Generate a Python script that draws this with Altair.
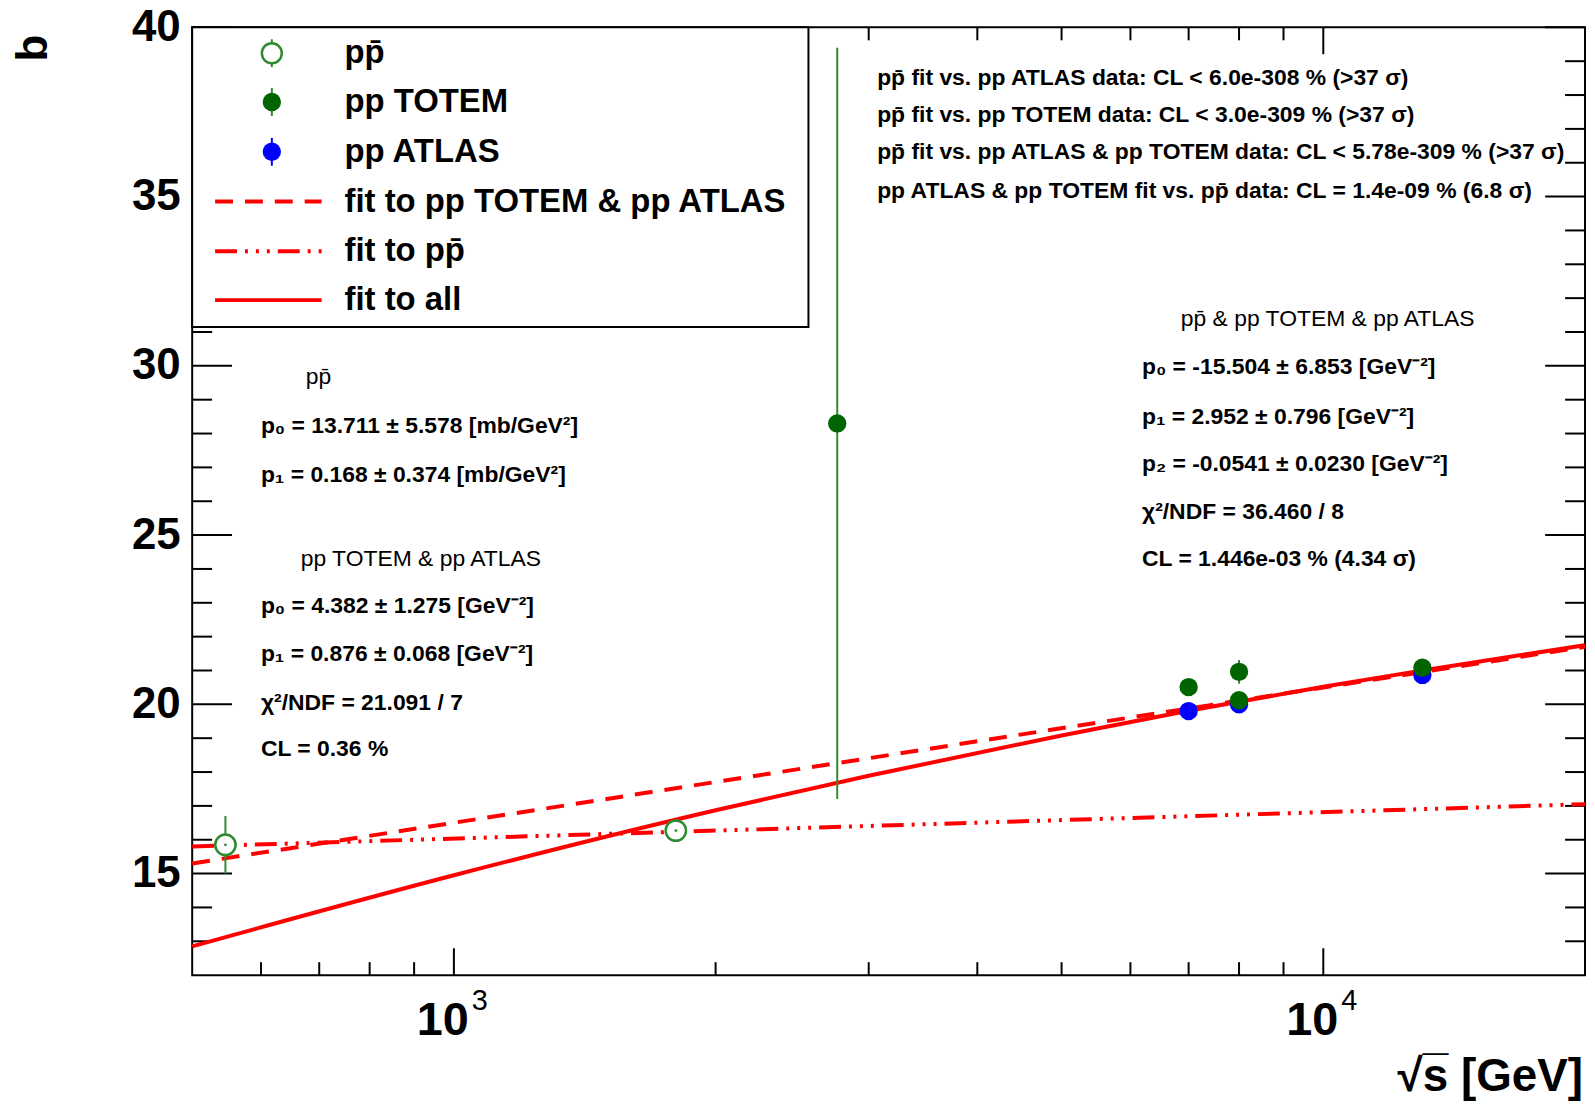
import altair as alt
import pandas as pd

# ---------------- data ----------------
ppbar_x = [546, 1800]
ppbar_y = [15.85, 16.27]
ppbar_err = [0.85, 0.1]

totem_x = [2760, 7000, 8000, 8000, 13000]
totem_y = [28.3, 20.51, 20.96, 20.12, 21.08]
totem_err = [11.1, 0.1, 0.35, 0.1, 0.1]

atlas_x = [7000, 8000, 13000]
atlas_y = [19.80, 20.0, 20.87]
atlas_err = [0.08, 0.08, 0.08]

fit_pp_x = [500, 20000]
fit_pp_y = [15.3, 21.7]
fit_ppbar_x = [500, 20000]
fit_ppbar_y = [15.8, 17.05]
fit_all_x = [500, 1000, 2000, 3000, 5000, 7000, 10000, 13000, 20000]
fit_all_y = [12.85, 14.95, 16.87, 17.89, 19.08, 19.81, 20.52, 21.0, 21.75]

y_major = [15, 20, 25, 30, 35, 40]
y_minor = [13, 14, 16, 17, 18, 19, 21, 22, 23, 24, 26, 27, 28, 29,
           31, 32, 33, 34, 36, 37, 38, 39]
x_major = [1000, 10000]
x_major_base = ["10", "10"]
x_major_exp = ["3", "4"]
x_minor = [600, 700, 800, 900, 2000, 3000, 4000, 5000, 6000, 7000, 8000, 9000]

PB = "pp\u0304"

legend_labels = [PB, "pp TOTEM", "pp ATLAS", "fit to pp TOTEM & pp ATLAS",
                 "fit to " + PB, "fit to all"]

top_lines = [
    PB + " fit vs. pp ATLAS data: CL < 6.0e-308 % (>37  σ)",
    PB + " fit vs. pp TOTEM data: CL < 3.0e-309 % (>37  σ)",
    PB + " fit vs. pp ATLAS & pp TOTEM data: CL < 5.78e-309 % (>37  σ)",
    "pp ATLAS & pp TOTEM fit vs. " + PB + " data: CL = 1.4e-09 % (6.8  σ)",
]
left_head1 = PB
left_lines1 = ["p₀ = 13.711 ± 5.578 [mb/GeV²]", "p₁ = 0.168 ± 0.374 [mb/GeV²]"]
left_head2 = "pp TOTEM & pp ATLAS"
left_lines2 = ["p₀ = 4.382 ± 1.275 [GeV⁻²]", "p₁ = 0.876 ± 0.068 [GeV⁻²]",
               "χ²/NDF = 21.091 / 7", "CL = 0.36 %"]
right_head = PB + " & pp TOTEM & pp ATLAS"
right_lines = ["p₀ = -15.504 ± 6.853 [GeV⁻²]", "p₁ = 2.952 ± 0.796 [GeV⁻²]",
               "p₂ = -0.0541 ± 0.0230 [GeV⁻²]", "χ²/NDF = 36.460 / 8",
               "CL = 1.446e-03 % (4.34  σ)"]

# ---------------- styling ----------------
W, H = 1399, 952
OX, OY = 193, 25          # page position of plot origin
FONT = "Liberation Sans"
RED = "#ff0000"
GREEN_OPEN = "#2e8b2e"
GREEN_FILL = "#006400"
GREEN_ERR = "#2e8b2e"
BLUE = "#0000ff"

xs = alt.Scale(type="log", domain=[500, 20000], nice=False)
ys = alt.Scale(domain=[12, 40], nice=False)
yaxis = alt.Axis(values=y_major, labelFontSize=44, labelFont=FONT,
                 labelFontWeight="bold", labelColor="black", ticks=False,
                 domain=False, grid=False, title=None, labelPadding=12)


def X(f):
    return alt.X(f, type="quantitative", scale=xs, axis=None)


def Y(f):
    return alt.Y(f, type="quantitative", scale=ys, axis=yaxis)


def pts(xv, yv, ev):
    return pd.DataFrame({"x": xv, "y": yv,
                         "lo": [a - b for a, b in zip(yv, ev)],
                         "hi": [a + b for a, b in zip(yv, ev)]})


def txt(s, px, py, size=23, weight="bold", align="left", angle=0,
        baseline="middle", color="black"):
    kw = dict(text=s, font=FONT, fontSize=size, fontWeight=weight,
              align=align, baseline=baseline, color=color)
    if angle:
        kw["angle"] = angle
    return alt.Chart(pd.DataFrame({"a": [0]})).mark_text(**kw).encode(
        x=alt.value(px - OX), y=alt.value(py - OY))


layers = []

# ticks (inside the frame, ROOT style)
ymaj = pd.DataFrame({"v": y_major})
ymin = pd.DataFrame({"v": y_minor})
xmaj = pd.DataFrame({"v": x_major})
xmin = pd.DataFrame({"v": x_minor})
tick_kw = dict(color="black", strokeWidth=2)
for df, L in [(ymaj, 40), (ymin, 20)]:
    layers.append(alt.Chart(df).mark_rule(**tick_kw).encode(
        y=Y("v"), x=alt.value(0), x2=alt.value(L)))
    layers.append(alt.Chart(df).mark_rule(**tick_kw).encode(
        y=Y("v"), x=alt.value(W - L), x2=alt.value(W)))
for df, L in [(xmaj, 27), (xmin, 13)]:
    layers.append(alt.Chart(df).mark_rule(**tick_kw).encode(
        x=X("v"), y=alt.value(H - L), y2=alt.value(H)))
    layers.append(alt.Chart(df).mark_rule(**tick_kw).encode(
        x=X("v"), y=alt.value(0), y2=alt.value(L)))

# x tick labels 10^3, 10^4
xl = pd.DataFrame({"v": x_major, "b": x_major_base, "e": x_major_exp})
layers.append(alt.Chart(xl).mark_text(
    font=FONT, fontSize=47, fontWeight="bold", align="right",
    baseline="middle", dx=15, color="black").encode(
    x=X("v"), y=alt.value(1023 - OY), text="b:N"))
layers.append(alt.Chart(xl).mark_text(
    font=FONT, fontSize=29, fontWeight="normal", align="left",
    baseline="middle", dx=18, color="black").encode(
    x=X("v"), y=alt.value(1003 - OY), text="e:N"))

# fit lines
layers.append(alt.Chart(pd.DataFrame({"x": fit_pp_x, "y": fit_pp_y})).mark_line(
    color=RED, strokeWidth=4, strokeDash=[18, 12]).encode(x=X("x"), y=Y("y")))
layers.append(alt.Chart(pd.DataFrame({"x": fit_ppbar_x, "y": fit_ppbar_y})).mark_line(
    color=RED, strokeWidth=4, strokeDash=[22, 8, 3, 8, 3, 8, 3, 8]).encode(x=X("x"), y=Y("y")))
layers.append(alt.Chart(pd.DataFrame({"x": fit_all_x, "y": fit_all_y})).mark_line(
    color=RED, strokeWidth=4, interpolate="monotone").encode(x=X("x"), y=Y("y")))

# data points
dpb = pts(ppbar_x, ppbar_y, ppbar_err)
dto = pts(totem_x, totem_y, totem_err)
dat = pts(atlas_x, atlas_y, atlas_err)
layers.append(alt.Chart(dat).mark_rule(color=BLUE, strokeWidth=2).encode(
    x=X("x"), y=Y("lo"), y2="hi"))
layers.append(alt.Chart(dat).mark_point(shape="circle", filled=True, size=340,
                                        color=BLUE, opacity=1).encode(x=X("x"), y=Y("y")))
layers.append(alt.Chart(dto).mark_rule(color=GREEN_ERR, strokeWidth=2).encode(
    x=X("x"), y=Y("lo"), y2="hi"))
layers.append(alt.Chart(dto).mark_point(shape="circle", filled=True, size=340,
                                        color=GREEN_FILL, opacity=1).encode(x=X("x"), y=Y("y")))
layers.append(alt.Chart(dpb).mark_rule(color=GREEN_OPEN, strokeWidth=2).encode(
    x=X("x"), y=Y("lo"), y2="hi"))
layers.append(alt.Chart(dpb).mark_point(shape="circle", filled=True, size=420,
                                        fill="white", stroke=GREEN_OPEN, strokeWidth=2.5,
                                        opacity=1).encode(x=X("x"), y=Y("y")))
layers.append(alt.Chart(dpb).mark_point(shape="circle", filled=True, size=8,
                                        color=GREEN_OPEN, opacity=1).encode(x=X("x"), y=Y("y")))

# legend box
LX0, LX1, LY0, LY1 = 193, 812, 25, 326
layers.append(alt.Chart(pd.DataFrame({"a": [0]})).mark_rect(
    fill="white", stroke="black", strokeWidth=2).encode(
    x=alt.value(LX0 - OX), x2=alt.value(LX1 - OX),
    y=alt.value(LY0 - OY), y2=alt.value(LY1 - OY)))
rows = [51, 100, 150, 200, 250, 299]
SX = 273
one = pd.DataFrame({"a": [0]})
# marker entries
for r, col, open_ in [(rows[0], GREEN_OPEN, True), (rows[1], GREEN_FILL, False),
                      (rows[2], BLUE, False)]:
    layers.append(alt.Chart(one).mark_rule(
        color=GREEN_ERR if col != BLUE else BLUE, strokeWidth=2).encode(
        x=alt.value(SX - OX), y=alt.value(r - 14 - OY), y2=alt.value(r + 14 - OY)))
    if open_:
        layers.append(alt.Chart(one).mark_point(
            shape="circle", filled=True, size=400, fill="white", stroke=col,
            strokeWidth=2.5, opacity=1).encode(
            x=alt.value(SX - OX), y=alt.value(r - OY)))
    else:
        layers.append(alt.Chart(one).mark_point(
            shape="circle", filled=True, size=340, color=col, opacity=1).encode(
            x=alt.value(SX - OX), y=alt.value(r - OY)))
# line entries
for r, dash in [(rows[3], [18, 12]), (rows[4], [22, 8, 3, 8, 3, 8, 3, 8]), (rows[5], None)]:
    kw = dict(color=RED, strokeWidth=4)
    if dash:
        kw["strokeDash"] = dash
    layers.append(alt.Chart(one).mark_rule(**kw).encode(
        x=alt.value(216 - OX), x2=alt.value(323 - OX), y=alt.value(r - OY)))
for r, lab in zip(rows, legend_labels):
    layers.append(txt(lab, 346, r, size=33))

# annotations
for yy, s in zip([76, 113, 150, 189], top_lines):
    layers.append(txt(s, 881, yy, size=23))
layers.append(txt(left_head1, 307, 376, weight="normal"))
for yy, s in zip([425, 475], left_lines1):
    layers.append(txt(s, 262, yy))
layers.append(txt(left_head2, 302, 559, weight="normal"))
for yy, s in zip([606, 654, 704, 750], left_lines2):
    layers.append(txt(s, 262, yy))
layers.append(txt(right_head, 1186, 318, weight="normal"))
for yy, s in zip([366, 416, 464, 512, 559], right_lines):
    layers.append(txt(s, 1147, yy))

# axis titles
layers.append(txt("b", 34, 46, size=44, angle=270, align="center"))
layers.append(txt("√s\u0305 [GeV]", 1590, 1093, size=46, align="right",
                  baseline="alphabetic"))

chart = alt.layer(*layers).properties(
    width=W, height=H,
    padding={"left": 185, "top": 17, "right": 2, "bottom": 126},
    autosize=alt.AutoSizeParams(type="none"),
    background="white",
).configure_view(stroke="black", strokeWidth=2)

chart.save("out.html", embed_options={"renderer": "svg", "actions": False})
